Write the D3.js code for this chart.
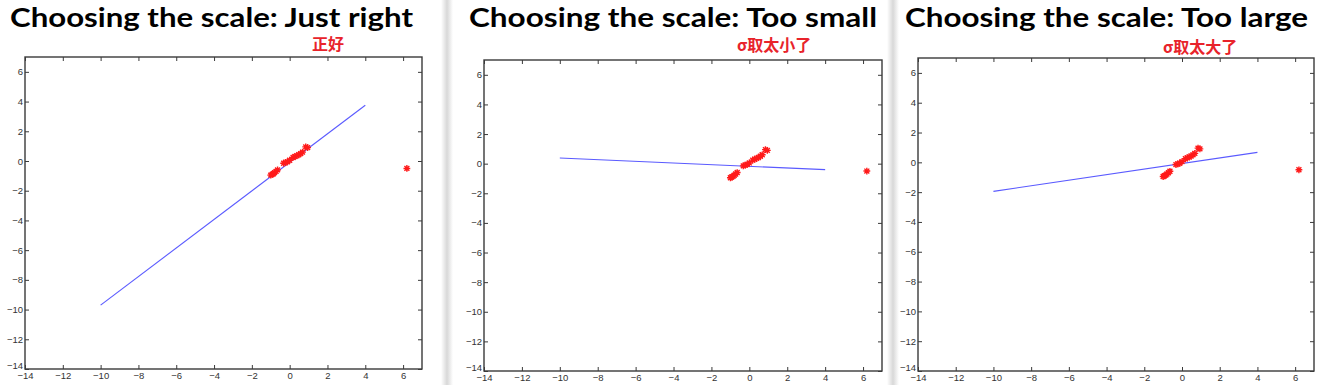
<!DOCTYPE html>
<html>
<head>
<meta charset="utf-8">
<script src="https://cdn.jsdelivr.net/npm/d3@7"></script>
<style>
  body { margin: 0; background: #fff; }
  svg { display: block; }
</style>
</head>
<body>
<div id="chart"></div>
<script>
// Three panels: same data, different fitted line

const titles = ['Choosing the scale: Just right', 'Choosing the scale: Too small', 'Choosing the scale: Too large'];
const notes = ['正好', 'σ取太小了', 'σ取太大了'];

// red "*" samples (x, y)
const pointX = [-1.0, -0.93, -0.86, -0.8, -0.72, -0.64, -0.32, -0.22, -0.12, 0.0, 0.18, 0.28, 0.38, 0.48, 0.58, 0.68, 0.85, 0.95, 6.2];
const pointY = [-0.95, -0.9, -0.86, -0.78, -0.7, -0.6, -0.15, -0.1, -0.06, 0.05, 0.24, 0.3, 0.36, 0.42, 0.5, 0.6, 0.95, 0.9, -0.5];

// blue line end points per panel
const lineX = [-10, 4];
const lineY = [
  [-9.7, 3.75],
  [0.38, -0.4],
  [-1.95, 0.67]
];

const ticks = [-14, -12, -10, -8, -6, -4, -2, 0, 2, 4, 6];
const domain = [-14, 7];

// layout of each panel (plot box, title box)
const panels = [
  {left: 25, top: 57, right: 422, bottom: 369, tx: 10, tw: 403, nx: 312, ny: 50},
  {left: 484, top: 60, right: 882, bottom: 371, tx: 469, tw: 408, nx: 737, ny: 51},
  {left: 918, top: 58, right: 1314, bottom: 371, tx: 905, tw: 403, nx: 1163, ny: 53}
];

const W = 1338, H = 385;
const svg = d3.select('#chart').append('svg')
    .attr('width', W)
    .attr('height', H);

// grey shadow strips between the slides
const defs = svg.append('defs');
const grad = defs.append('linearGradient').attr('id', 'shade');
grad.append('stop').attr('offset', '0%').attr('stop-color', '#fff');
grad.append('stop').attr('offset', '50%').attr('stop-color', '#d8d8d8');
grad.append('stop').attr('offset', '100%').attr('stop-color', '#fff');
[[441, 12], [887, 12]].forEach(([x, w]) => {
    svg.append('rect').attr('x', x).attr('y', 0).attr('width', w).attr('height', H)
        .attr('fill', 'url(#shade)');
});

const star = d3.symbol().type({
    draw(ctx, size) {
        const r = 3.4, d = r * 0.72;
        ctx.moveTo(-r, 0); ctx.lineTo(r, 0);
        ctx.moveTo(0, -r); ctx.lineTo(0, r);
        ctx.moveTo(-d, -d); ctx.lineTo(d, d);
        ctx.moveTo(-d, d); ctx.lineTo(d, -d);
    }
});

panels.forEach((p, i) => {
    const g = svg.append('g');

    const x = d3.scaleLinear().domain(domain).range([p.left, p.right]);
    const y = d3.scaleLinear().domain(domain).range([p.bottom, p.top]);

    // title
    g.append('text')
        .attr('x', p.tx)
        .attr('y', 27)
        .attr('textLength', p.tw)
        .attr('lengthAdjust', 'spacingAndGlyphs')
        .style('font-family', 'Lato, "Open Sans", sans-serif')
        .style('font-weight', 'bold')
        .style('font-size', '26px')
        .style('fill', '#000')
        .text(titles[i]);

    // red note
    g.append('text')
        .attr('x', p.nx)
        .attr('y', p.ny)
        .style('font-family', '"Noto Sans CJK SC", "Noto Sans", sans-serif')
        .style('font-weight', 'bold')
        .style('font-size', '16px')
        .style('fill', '#e8232b')
        .text(notes[i]);

    // box
    g.append('rect')
        .attr('x', p.left).attr('y', p.top)
        .attr('width', p.right - p.left).attr('height', p.bottom - p.top)
        .attr('fill', '#fff')
        .attr('stroke', '#3a3a3a')
        .attr('stroke-width', 1.4);

    const styleAxis = sel => {
        sel.select('.domain').remove();
        sel.selectAll('.tick line').attr('stroke', '#3a3a3a');
        sel.selectAll('.tick text')
            .style('font-family', '"Liberation Sans", Arial, sans-serif')
            .style('font-size', '9.5px')
            .style('fill', '#333');
    };

    g.append('g')
        .attr('transform', `translate(0,${p.bottom})`)
        .call(d3.axisBottom(x).tickValues(ticks).tickSize(-4).tickPadding(3))
        .call(styleAxis);
    g.append('g')
        .attr('transform', `translate(${p.left},0)`)
        .call(d3.axisLeft(y).tickValues(ticks).tickSize(-4).tickPadding(2))
        .call(styleAxis)
        // lowest label sits a bit higher, as in the reference corner
        .selectAll('.tick text').filter(d => d === -14).attr('dy', '-0.05em');
    g.append('g')
        .attr('transform', `translate(0,${p.top})`)
        .call(d3.axisTop(x).tickValues(ticks).tickSize(-4).tickFormat(''))
        .call(styleAxis);
    g.append('g')
        .attr('transform', `translate(${p.right},0)`)
        .call(d3.axisRight(y).tickValues(ticks).tickSize(-4).tickFormat(''))
        .call(styleAxis);

    // fitted line
    const lineData = lineX.map((v, k) => [v, lineY[i][k]]);
    g.append('path')
        .datum(lineData)
        .attr('fill', 'none')
        .attr('stroke', '#5a5aff')
        .attr('stroke-width', 1.1)
        .attr('d', d3.line().x(d => x(d[0])).y(d => y(d[1])));

    // samples
    g.selectAll('path.pt')
        .data(pointX.map((v, k) => [v, pointY[k]]))
        .enter()
        .append('path')
        .attr('class', 'pt')
        .attr('transform', d => `translate(${x(d[0])},${y(d[1])})`)
        .attr('d', star())
        .attr('fill', 'none')
        .attr('stroke', '#ff1a1a')
        .attr('stroke-width', 1.4);
});
</script>
</body>
</html>
